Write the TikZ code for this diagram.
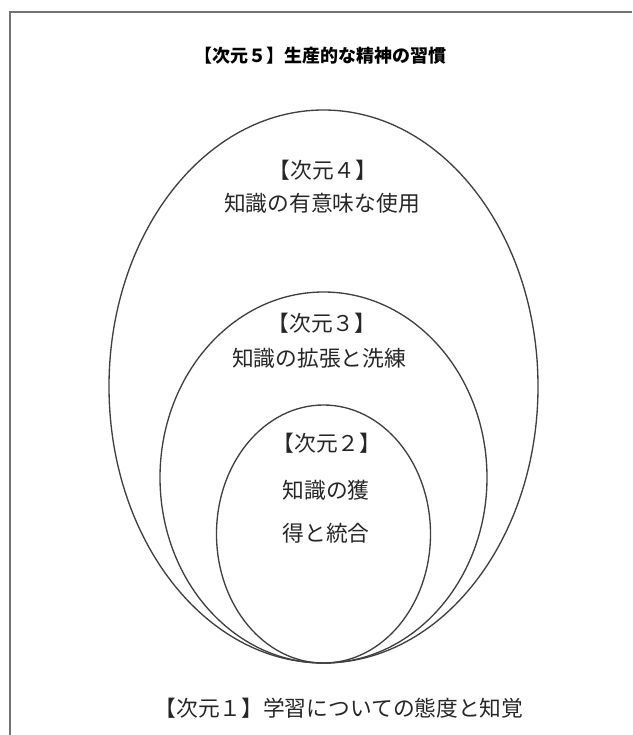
\documentclass[tikz,border=0pt]{standalone}
\usepackage{fontspec}
\usetikzlibrary{shapes.geometric}
\newfontfamily\jp{Noto Sans CJK JP}
\begin{document}
\begin{tikzpicture}[x=0.75pt,y=-0.75pt,
  ring/.style={draw=black!75,line width=1.0pt,ellipse,inner sep=0pt,outer sep=0pt},
  frameline/.style={draw=black!55,line width=2.2pt},
  lbl/.style={font=\jp\fontsize{16.3}{19}\selectfont,text=black!85,inner sep=0pt}]
\useasboundingbox (0,0) rectangle (632,735);
\coordinate (fa) at (10,735);
\coordinate (fb) at (10,12);
\coordinate (fc) at (632,12);
\draw[frameline] (fa) -- (fb) -- (fc);
% ellipses tangent at bottom (323.5,663)
\node[ring,minimum width=321.75pt,minimum height=414.75pt] (e4) at (323.5,386.5) {};
\node[ring,minimum width=245.25pt,minimum height=278.25pt] (e3) at (323.5,477.5) {};
\node[ring,minimum width=160.5pt,minimum height=193.5pt] (e2) at (323.5,534) {};
\node[font=\jp\bfseries\fontsize{13.5}{16}\selectfont,inner sep=0pt] (t5) at (320,56) {【次元５】生産的な精神の習慣};
\node[lbl] (t4a) at (323,170) {【次元４】};
\node[lbl] (t4b) at (322,203) {知識の有意味な使用};
\node[lbl] (t3a) at (322,323) {【次元３】};
\node[lbl] (t3b) at (319,358) {知識の拡張と洗練};
\node[lbl] (t2a) at (327,443) {【次元２】};
\node[lbl] (t2b) at (326,490) {知識の獲};
\node[lbl] (t2c) at (326,533) {得と統合};
\node[lbl] (t1) at (339,708) {【次元１】学習についての態度と知覚};
\end{tikzpicture}
\end{document}
